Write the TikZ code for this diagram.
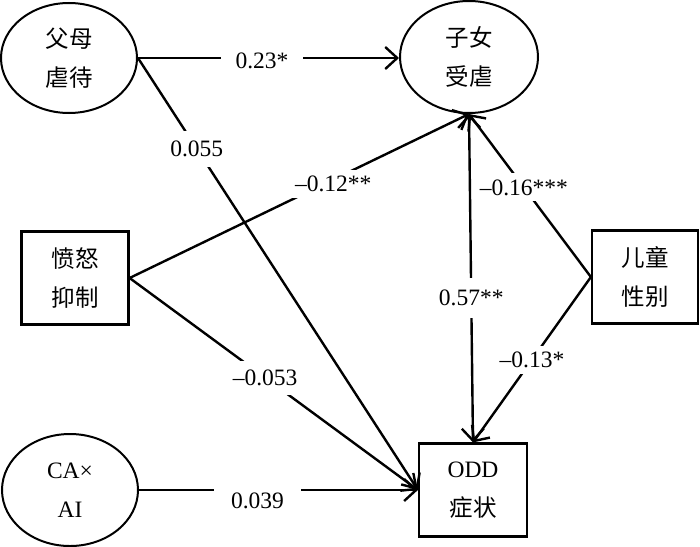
\documentclass[tikz,border=0pt]{standalone}
\usepackage{fontspec}
\setmainfont{Liberation Serif}
\newfontfamily\cjk{Noto Sans CJK SC}
\usetikzlibrary{shapes.geometric,arrows.meta}
\begin{document}
\begin{tikzpicture}[x=1pt,y=-1pt,
  every node/.style={font=\fontsize{23.5}{39}\selectfont, align=center},
  ell/.style={draw, line width=2pt, ellipse, inner sep=0pt},
  box/.style={draw, line width=2.2pt, rectangle, inner sep=0pt},
  conn/.style={line width=2.4pt, -{Straight Barb[length=12pt,width=22pt]}},
  bconn/.style={line width=2.4pt, {Straight Barb[length=12pt,width=22pt]}-{Straight Barb[length=12pt,width=22pt]}},
  lab/.style={fill=white, inner xsep=10pt, inner ysep=6pt}
]
\useasboundingbox (0,0) rectangle (700,546);
\fill[white] (0,0) rectangle (700,546);

\node[ell, minimum width=136pt, minimum height=110pt] (fm) at (69,58) {{\cjk 父母}\\{\cjk 虐待}};
\node[ell, minimum width=138pt, minimum height=112pt] (zn) at (469,57) {{\cjk 子女}\\{\cjk 受虐}};
\node[ell, minimum width=136pt, minimum height=112pt] (ca) at (70,490) {CA×\\AI};
\node[box, minimum width=107pt, minimum height=93pt] (fn) at (75,278) {{\cjk 愤怒}\\{\cjk 抑制}};
\node[box, minimum width=108pt, minimum height=93pt] (odd) at (473,490) {ODD\\{\cjk 症状}};
\node[box, minimum width=106pt, minimum height=93pt] (et) at (645,277) {{\cjk 儿童}\\{\cjk 性别}};

\draw[conn] (fm.east) -- node[lab, pos=0.475, yshift=-3pt, inner xsep=15pt] {0.23*} (fm.east -| zn.west);
\draw[conn] (fm.east) -- node[lab, pos=0.21, inner xsep=4pt, inner ysep=10pt] {0.055} (odd.west);
\draw[conn] (fn.east) -- node[lab, pos=0.6, yshift=-4pt, inner xsep=6pt] {–0.12**} (zn.south);
\draw[conn] (fn.east) -- node[lab, pos=0.47, inner xsep=4pt, inner ysep=9pt] {–0.053} (odd.west);
\draw[conn] (ca.east) -- node[lab, pos=0.425, yshift=-11pt, inner xsep=17pt, inner ysep=12pt] {0.039} (odd.west);
\draw[bconn] (zn.south) -- node[lab, pos=0.56, inner xsep=2pt, inner ysep=12pt] {0.57**} (odd.north);
\draw[conn] (et.west) -- node[lab, pos=0.55, inner xsep=2pt, inner ysep=6pt] {–0.16***} (zn.south);
\draw[conn] (et.west) -- node[lab, pos=0.5, inner xsep=2pt, inner ysep=6pt] {–0.13*} (odd.north);
\end{tikzpicture}
\end{document}
